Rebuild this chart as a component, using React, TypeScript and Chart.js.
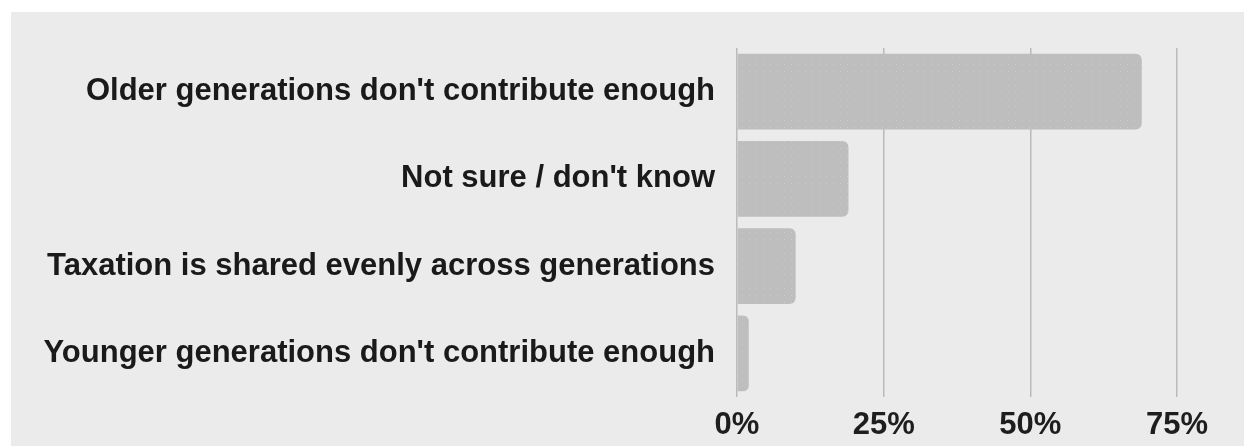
import React, { useEffect, useRef } from "react";
import { Chart, registerables } from "chart.js";

Chart.register(...registerables);

// Survey answers, top to bottom
const categories = [
  "Older generations don't contribute enough",
  "Not sure / don't know",
  "Taxation is shared evenly across generations",
  "Younger generations don't contribute enough",
];

// Share of respondents (%)
const shares = [69, 19, 10, 2];

// Percentage axis
const axisMin = 0;
const axisMax = 75;
const axisStep = 25;

const FONT = "'Liberation Sans', Arial, sans-serif";

// Light dotted fill for the bars
function dottedFill(): CanvasPattern | string {
  const tile = document.createElement("canvas");
  tile.width = 7;
  tile.height = 7;
  const g = tile.getContext("2d");
  if (!g) return "#bebebe";
  g.fillStyle = "#bebebe";
  g.fillRect(0, 0, 7, 7);
  g.fillStyle = "#cbcbcb";
  g.fillRect(3, 3, 1, 1);
  return g.createPattern(tile, "repeat") ?? "#bebebe";
}

export default function App() {
  const canvasRef = useRef<HTMLCanvasElement | null>(null);

  useEffect(() => {
    const canvas = canvasRef.current;
    if (!canvas) return;
    const chart = new Chart(canvas, {
      type: "bar",
      data: {
        labels: categories,
        datasets: [
          {
            data: shares,
            backgroundColor: dottedFill() as any,
            borderWidth: 0,
            borderRadius: 6,
            borderSkipped: "start",
            categoryPercentage: 1,
            barPercentage: 0.87,
          },
        ],
      },
      options: {
        indexAxis: "y",
        responsive: false,
        animation: false,
        layout: { padding: { top: 36, right: 67, bottom: 0, left: 0 } },
        plugins: {
          legend: { display: false },
          tooltip: { enabled: false },
        },
        scales: {
          x: {
            min: axisMin,
            max: axisMax,
            border: { display: false },
            grid: { color: "#bababa", lineWidth: 1.5, drawTicks: false },
            ticks: {
              stepSize: axisStep,
              padding: 10,
              color: "#1e1e1e",
              font: { family: FONT, size: 31, weight: "bold" },
              callback: (v: any) => `${v}%`,
            },
            afterFit: (s: any) => {
              s.height = 49;
              s.paddingLeft = 0;
              s.paddingRight = 0;
            },
          },
          y: {
            border: { display: false },
            grid: { display: false, drawTicks: false },
            ticks: {
              padding: 22,
              color: "#1a1a1a",
              font: { family: FONT, size: 31, weight: "bold" },
            },
            afterFit: (s: any) => {
              s.width = 726;
              s.paddingTop = 0;
              s.paddingBottom = 0;
            },
          },
        },
      },
    });
    return () => chart.destroy();
  }, []);

  return (
    <div
      style={{
        position: "absolute",
        left: 11,
        top: 12,
        width: 1233,
        height: 434,
        background: "#ebebeb",
      }}
    >
      <canvas ref={canvasRef} width={1233} height={434} style={{ display: "block" }} />
    </div>
  );
}
